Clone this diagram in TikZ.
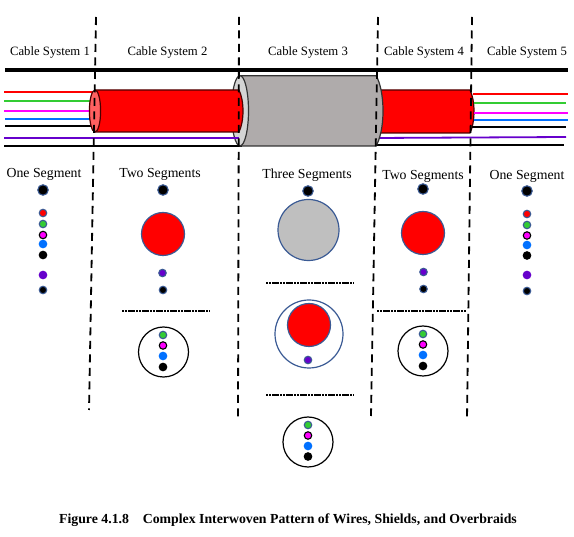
\documentclass[tikz,border=0pt]{standalone}
\usepackage{fontspec}
\setmainfont{Liberation Serif}
\definecolor{wred}{HTML}{FF0000}
\definecolor{wgreen}{HTML}{33CC33}
\definecolor{wmag}{HTML}{FF00FF}
\definecolor{wblue}{HTML}{0070FF}
\definecolor{wpurple}{HTML}{6600CC}
\definecolor{edgeblue}{HTML}{3A5A94}
\definecolor{shieldgrey}{HTML}{AFABAB}
\definecolor{discgrey}{HTML}{BFBFBF}
\definecolor{rimgrey}{HTML}{D4D4D4}
\definecolor{pinkend}{HTML}{FF6060}
\tikzset{
  wire/.style={line width=1.8pt},
  heavy/.style={line width=3.8pt},
  sysdiv/.style={line width=1.8pt,dash pattern=on 8pt off 5.5pt},
  segdiv/.style={line width=1.6pt,dash pattern=on 2pt off 1pt on 2pt off 1pt on 7pt off 1pt},
  syslabel/.style={font=\fontsize{12.7}{14}\selectfont,inner sep=0pt},
  seglabel/.style={font=\fontsize{13.8}{16}\selectfont,inner sep=0pt},
  dotb/.style={circle,inner sep=0pt,minimum size=#1,draw=edgeblue,line width=1.1pt},
  dotk/.style={circle,inner sep=0pt,minimum size=#1,draw=black,line width=1.1pt},
  disc/.style={circle,inner sep=0pt,minimum size=#1,draw=edgeblue,line width=1.2pt},
  ring/.style={circle,inner sep=0pt,minimum size=#1,draw=black,line width=1.2pt},
}
\newcommand{\wirestack}[7]{% prefix, x, y's
  \node[dotb=7.5pt,fill=wred] (#1r) at (#2,#3) {};
  \node[dotb=7.5pt,fill=wgreen] (#1g) at (#2,#4) {};
  \node[dotk=7.5pt,fill=wmag] (#1m) at (#2,#5) {};
  \node[dotb=7.5pt,draw=wblue,fill=wblue] (#1b) at (#2,#6) {};
  \node[dotk=7.5pt,fill=black] (#1k) at (#2,#7) {};
}
\newcommand{\ringstack}[6]{% prefix, x, y's
  \node[dotb=7.5pt,fill=wgreen] (#1g) at (#2,#3) {};
  \node[dotk=7.5pt,fill=wmag] (#1m) at (#2,#4) {};
  \node[dotb=7.5pt,draw=wblue,fill=wblue] (#1b) at (#2,#5) {};
  \node[dotk=7.5pt,fill=black] (#1k) at (#2,#6) {};
}
\begin{document}
\begin{tikzpicture}[x=1pt,y=-1pt]
\useasboundingbox (0,0) rectangle (574,537);
\fill[white] (0,0) rectangle (574,537);
% labels
\node[syslabel] (cs1) at (50,52.5) {Cable System 1};
\node[syslabel] (cs2) at (167.5,52.5) {Cable System 2};
\node[syslabel] (cs3) at (308,52.5) {Cable System 3};
\node[syslabel] (cs4) at (424,52.5) {Cable System 4};
\node[syslabel] (cs5) at (527,52.5) {Cable System 5};
% top heavy line
\draw[heavy] (5,70) -- (568,70);
% left wires
\draw[wire,wred] (4,91.7) -- (92,91.7);
\draw[wire,wgreen] (4,100.7) -- (92,100.7);
\draw[wire,wmag] (4,110.7) -- (92,110.7);
\draw[wire,wblue] (5,118.7) -- (92,118.7);
\draw[wire,black] (5,126) -- (92,126);
\draw[wire,black] (4,146) -- (242,146);
% right red cylinder
\fill[wred] (378,90) -- (470,90)
  .. controls (472.5,95) and (474,103) .. (474,111)
  .. controls (474,120) and (472.5,128) .. (470,133) -- (378,133) -- cycle;
\draw[line width=1.2pt,draw=black!70!red] (378,90) -- (470,90)
  .. controls (472.5,95) and (474,103) .. (474,111)
  .. controls (474,120) and (472.5,128) .. (470,133) -- (378,133);
% right wires
\draw[wire,wred] (473,94) -- (568,94);
\draw[wire,wgreen] (474,103) -- (566,103);
\draw[wire,wmag] (474,113) -- (568,113);
\draw[wire,wblue] (474,119.7) -- (568,119.7);
\draw[wire,black] (472,127) -- (566,127);
\draw[wire,wpurple] (376,138) -- (566,137);
\draw[wire,black] (376,145) -- (564,145);
% grey cylinder
\draw[line width=1.2pt,draw=black!80,fill=shieldgrey] (240,75.7) -- (376,75.7)
  .. controls (380,82) and (383,95) .. (383,111)
  .. controls (383,127) and (380,139) .. (376,146) -- (240,146) -- cycle;
\draw[line width=1.2pt,draw=black!80,fill=rimgrey] (240,110.8) ellipse (8.5 and 35.1);
% left red cylinder
\draw[line width=1.2pt,draw=black!70!red,fill=wred] (95,90) -- (239,90)
  .. controls (241.5,95) and (243,103) .. (243,111)
  .. controls (243,119) and (241.5,127) .. (239,132) -- (95,132) -- cycle;
\draw[line width=1.2pt,draw=black!70!red,fill=pinkend] (95,111) ellipse (5.6 and 21);
% purple wire over
\draw[wire,wpurple] (4,138) -- (239,138);
% division lines
\draw[sysdiv] (96,17) -- (89,410);
\draw[sysdiv] (239,17) -- (238,418);
\draw[sysdiv] (378,17) -- (371,416);
\draw[sysdiv] (472,17) -- (467,420);
% segment labels
\node[seglabel] (sl1) at (44,174) {One Segment};
\node[seglabel] (sl2) at (160,174) {Two Segments};
\node[seglabel] (sl3) at (307,175) {Three Segments};
\node[seglabel] (sl4) at (423,176) {Two Segments};
\node[seglabel] (sl5) at (527,176) {One Segment};
% system 1
\node[dotb=10.5pt,fill=black] (a0) at (43,190) {};
\wirestack{a}{43}{213}{224}{235}{244}{255}
\node[dotb=7.5pt,draw=wpurple,fill=wpurple] (ap) at (43,275) {};
\node[dotb=7.5pt,fill=black] (ak) at (43,290) {};
% system 2
\node[dotb=10.5pt,fill=black] (b0) at (163,190) {};
\node[disc=43pt,fill=wred] (bd) at (163,234) {};
\node[dotb=7.5pt,fill=wpurple] (bp) at (162.5,273) {};
\node[dotb=7.5pt,fill=black] (bk) at (163,290) {};
\draw[segdiv] (122,311) -- (210,311);
\node[ring=50pt] (br) at (163.5,352) {};
\ringstack{bs}{163}{335}{345.5}{356}{367}
% system 3
\node[dotb=10.5pt,fill=black] (c0) at (308,191) {};
\node[disc=61pt,fill=discgrey] (cd) at (308.5,230) {};
\draw[segdiv] (266,283) -- (354,283);
\node[disc=68pt] (co) at (309,334) {};
\node[disc=43pt,fill=wred] (cr) at (309,325) {};
\node[dotb=7.5pt,fill=wpurple] (cp) at (308,360) {};
\draw[segdiv] (266,395) -- (354,395);
\node[ring=50pt] (cc) at (308,442) {};
\ringstack{cs}{308}{425}{435.5}{446}{456.5}
% system 4
\node[dotb=10.5pt,fill=black] (d0) at (423,189) {};
\node[disc=43pt,fill=wred] (dd) at (423,233) {};
\node[dotb=7.5pt,fill=wpurple] (dp) at (423.5,272) {};
\node[dotb=7.5pt,fill=black] (dk) at (423.5,289) {};
\draw[segdiv] (377,311) -- (466,311);
\node[ring=50pt] (dr) at (423,351) {};
\ringstack{ds}{423}{334}{344.5}{355}{366}
% system 5
\node[dotb=10.5pt,fill=black] (e0) at (527,191) {};
\wirestack{e}{527}{214}{225}{235.5}{245}{255.5}
\node[dotb=7.5pt,draw=wpurple,fill=wpurple] (ep) at (527,275) {};
\node[dotb=7.5pt,fill=black] (ek) at (527,291) {};
% caption
\node[font=\bfseries\fontsize{13.8}{16}\selectfont,inner sep=0pt] (cap) at (288,520.5) {Figure 4.1.8\hspace{1em}Complex Interwoven Pattern of Wires, Shields, and Overbraids};
\end{tikzpicture}
\end{document}
